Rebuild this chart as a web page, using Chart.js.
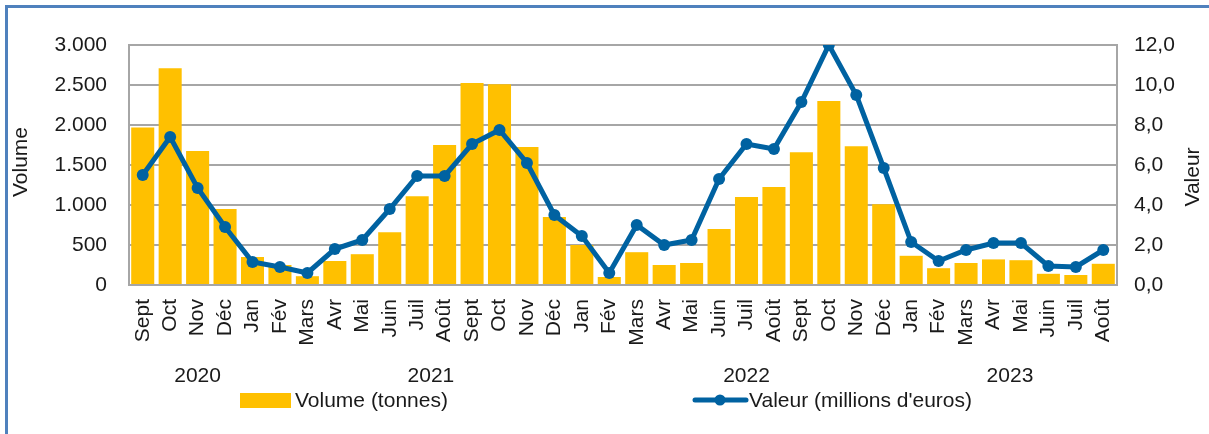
<!DOCTYPE html>
<html lang="fr">
<head>
<meta charset="utf-8">
<title>Volume et valeur mensuels</title>
<script src="https://cdn.jsdelivr.net/npm/chart.js@4/dist/chart.umd.min.js"></script>
<style>
  html, body { margin: 0; padding: 0; background: #fff; }
  #wrap { position: relative; width: 1209px; height: 434px; overflow: hidden; }
  #frame {
    position: absolute; left: 5px; top: 5px; right: -10px; bottom: -10px;
    border-left: 3px solid #4F81BD; border-top: 3px solid #4F81BD;
    pointer-events: none;
  }
  canvas { position: absolute; left: 0; top: 0; }
</style>
</head>
<body>
<div id="wrap">
  <canvas id="chart" width="1209" height="434"></canvas>
  <div id="frame"></div>
</div>
<script>
const MONTHS = [
  "Sept", "Oct", "Nov", "Déc",
  "Jan", "Fév", "Mars", "Avr", "Mai", "Juin", "Juil", "Août", "Sept", "Oct", "Nov", "Déc",
  "Jan", "Fév", "Mars", "Avr", "Mai", "Juin", "Juil", "Août", "Sept", "Oct", "Nov", "Déc",
  "Jan", "Fév", "Mars", "Avr", "Mai", "Juin", "Juil", "Août",
];
const YEARS = ["2020", "2021", "2022", "2023"];
const YEAR_ANCHORS = [2.0, 10.5, 22.0, 31.6]; // category index under each year label

const VOLUME = [
  1970, 2710, 1675, 950,
  350, 250, 110, 300, 385, 660, 1110, 1750, 2525, 2510, 1725, 850,
  500, 100, 410, 250, 275, 700, 1100, 1225, 1660, 2300, 1735, 1010,
  365, 210, 275, 320, 310, 140, 125, 265,
];
const VALEUR = [
  5.5, 7.4, 4.85, 2.9,
  1.15, 0.9, 0.6, 1.8, 2.25, 3.8, 5.45, 5.45, 7.05, 7.75, 6.1, 3.5,
  2.45, 0.6, 3.0, 2.0, 2.25, 5.3, 7.05, 6.8, 9.15, 12.0, 9.5, 5.85,
  2.15, 1.2, 1.75, 2.1, 2.1, 0.95, 0.9, 1.75,
];

const VOL_TICKS = { max: 3000, step: 500 };
const VAL_TICKS = { max: 12, step: 2 };

const YELLOW = "#FFC000";
const BLUE = "#0062A1";
const GRID = "#A6A6A6";
const TEXT = "#1a1a1a";
const FONT = "'Liberation Sans', Arial, sans-serif";

const extras = {
  id: "extras",
  afterDraw(chart) {
    const { ctx, scales } = chart;
    ctx.save();
    ctx.fillStyle = TEXT;
    ctx.font = `21px ${FONT}`;
    ctx.textBaseline = "middle";

    // axis titles, both reading bottom to top
    [["Volume", 21, 162], ["Valeur", 1193, 177]].forEach(([t, x, y]) => {
      ctx.save();
      ctx.translate(x, y);
      ctx.rotate(-Math.PI / 2);
      ctx.textAlign = "center";
      ctx.fillText(t, 0, 0);
      ctx.restore();
    });

    // year labels
    ctx.textAlign = "center";
    YEARS.forEach((y, i) => {
      ctx.fillText(y, scales.x.getPixelForValue(YEAR_ANCHORS[i]), 376);
    });

    // legend
    ctx.textAlign = "left";
    ctx.fillStyle = YELLOW;
    ctx.fillRect(240, 393, 51, 15);
    ctx.fillStyle = TEXT;
    ctx.fillText(chart.data.datasets[1].label, 295, 401);

    ctx.strokeStyle = BLUE;
    ctx.lineWidth = 5;
    ctx.lineCap = "round";
    ctx.beginPath();
    ctx.moveTo(695, 400);
    ctx.lineTo(746, 400);
    ctx.stroke();
    ctx.fillStyle = BLUE;
    ctx.beginPath();
    ctx.arc(720, 400, 5.5, 0, Math.PI * 2);
    ctx.fill();
    ctx.fillStyle = TEXT;
    ctx.fillText(chart.data.datasets[0].label, 749, 401);
    ctx.restore();
  },
};

new Chart(document.getElementById("chart"), {
  data: {
    labels: MONTHS,
    datasets: [
      {
        type: "line",
        label: "Valeur (millions d'euros)",
        data: VALEUR,
        yAxisID: "yVal",
        borderColor: BLUE,
        backgroundColor: BLUE,
        borderWidth: 5,
        pointRadius: 6,
        pointBorderWidth: 0,
        tension: 0,
        order: 0,
      },
      {
        type: "bar",
        label: "Volume (tonnes)",
        data: VOLUME,
        yAxisID: "yVol",
        backgroundColor: YELLOW,
        borderWidth: 0,
        categoryPercentage: 0.84,
        barPercentage: 1,
        order: 1,
      },
    ],
  },
  options: {
    responsive: false,
    animation: false,
    layout: { padding: { top: 45, left: 0, right: 0, bottom: 0 } },
    plugins: { legend: { display: false }, tooltip: { enabled: false } },
    scales: {
      x: {
        grid: { display: false, drawTicks: false },
        border: { display: true, color: GRID, width: 2 },
        ticks: {
          color: TEXT, font: { family: FONT, size: 21 },
          minRotation: 90, maxRotation: 90, autoSkip: false, padding: 14,
        },
        afterFit(scale) { scale.height = 149; },
      },
      yVol: {
        position: "left",
        min: 0, max: VOL_TICKS.max,
        grid: { color: GRID, lineWidth: 2, drawTicks: false },
        border: { display: true, color: GRID, width: 2 },
        ticks: {
          stepSize: VOL_TICKS.step, padding: 22, color: TEXT,
          font: { family: FONT, size: 21 },
          callback: (v) => v.toLocaleString("de-DE"),
        },
        afterFit(scale) { scale.width = 129; },
      },
      yVal: {
        position: "right",
        min: 0, max: VAL_TICKS.max,
        grid: { display: false, drawTicks: false },
        border: { display: true, color: GRID, width: 2 },
        ticks: {
          stepSize: VAL_TICKS.step, padding: 17, color: TEXT,
          font: { family: FONT, size: 21 },
          callback: (v) => v.toFixed(1).replace(".", ","),
        },
        afterFit(scale) { scale.width = 92; },
      },
    },
  },
  plugins: [extras],
});
</script>
</body>
</html>
